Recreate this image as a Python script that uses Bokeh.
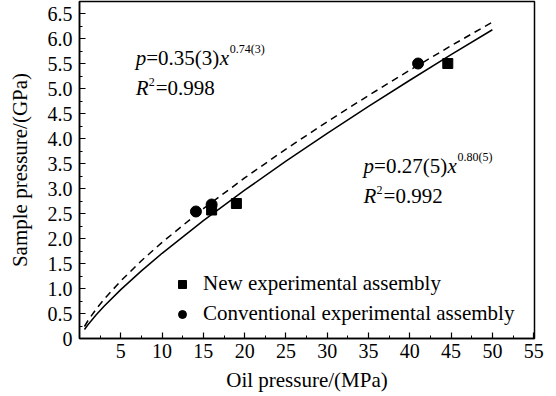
from bokeh.plotting import figure
from bokeh.models import (Range1d, FixedTicker, PrintfTickFormatter, Legend,
                          LegendItem, Label)
from bokeh.embed import file_html
from bokeh.resources import INLINE

FONT = "Liberation Serif"

# measured points
new_x = [16.0, 19.0, 44.6]
new_y = [2.57, 2.70, 5.50]
conv_x = [14.1, 16.0, 41.0]
conv_y = [2.54, 2.68, 5.50]

# fitted curves: new p=0.27 x^0.80 (solid), conventional p=0.35 x^0.74 (dashed)
fit_x = [0.6, 1, 2, 3, 5, 7.5, 10, 15, 20, 25, 30, 35, 40, 45, 50]
fit_new_y = [0.179, 0.270, 0.470, 0.650, 0.978, 1.353, 1.704, 2.356, 2.966,
             3.546, 4.103, 4.641, 5.165, 5.676, 6.175]
fit_conv_y = [0.240, 0.350, 0.585, 0.789, 1.152, 1.555, 1.923, 2.596, 3.212,
              3.789, 4.336, 4.861, 5.366, 5.855, 6.329]

x_ticks = [5, 10, 15, 20, 25, 30, 35, 40, 45, 50, 55]
x_minor = [2.5, 7.5, 12.5, 17.5, 22.5, 27.5, 32.5, 37.5, 42.5, 47.5, 52.5]
y_ticks = [0, 0.5, 1.0, 1.5, 2.0, 2.5, 3.0, 3.5, 4.0, 4.5, 5.0, 5.5, 6.0, 6.5]
y_minor = [0.25, 0.75, 1.25, 1.75, 2.25, 2.75, 3.25, 3.75, 4.25, 4.75, 5.25,
           5.75, 6.25]

p = figure(width=556, height=396, output_backend="svg", toolbar_location=None,
           x_range=Range1d(0, 55.1), y_range=Range1d(0, 6.74),
           min_border_left=79, min_border_right=22, min_border_top=1,
           min_border_bottom=58)
p.grid.visible = False
p.background_fill_color = "white"
p.outline_line_color = "black"
p.outline_line_width = 1.5

p.xaxis.axis_label = "Oil pressure/(MPa)"
p.yaxis.axis_label = "Sample pressure/(GPa)"
p.xaxis.ticker = FixedTicker(ticks=x_ticks, minor_ticks=x_minor)
p.yaxis.ticker = FixedTicker(ticks=y_ticks, minor_ticks=y_minor)
p.yaxis.formatter = PrintfTickFormatter(format="%.1f")
p.yaxis.major_label_overrides = {0: "0"}
for ax in (p.xaxis[0], p.yaxis[0]):
    ax.axis_line_width = 1.5
    ax.axis_line_color = "black"
    ax.major_tick_in = 6
    ax.major_tick_out = 0
    ax.minor_tick_in = 3
    ax.minor_tick_out = 0
    ax.major_tick_line_color = "black"
    ax.minor_tick_line_color = "black"
    ax.major_tick_line_width = 1.2
    ax.major_label_text_font = FONT
    ax.major_label_text_font_size = "20px"
    ax.major_label_text_color = "black"
    ax.axis_label_text_font = FONT
    ax.axis_label_text_font_size = "21px"
    ax.axis_label_text_font_style = "normal"
    ax.axis_label_text_color = "black"
p.xaxis.major_label_standoff = 5
p.yaxis.major_label_standoff = 7
p.xaxis.axis_label_standoff = 7
p.yaxis.axis_label_standoff = 13

p.line(fit_x, fit_conv_y, line_color="black", line_width=1.5, line_dash="7 5")
p.line(fit_x, fit_new_y, line_color="black", line_width=1.5)

sq = p.scatter(new_x, new_y, marker="square", size=10, fill_color="black",
               line_color="black")
ci = p.scatter(conv_x, conv_y, marker="circle", size=11, fill_color="black",
               line_color="black")

legend = Legend(items=[LegendItem(label="New experimental assembly", renderers=[sq]),
                       LegendItem(label="Conventional experimental assembly", renderers=[ci])],
                location=(93, 12), border_line_color=None,
                background_fill_alpha=0, padding=0, margin=0, spacing=5,
                glyph_width=20, glyph_height=22, label_height=22,
                label_standoff=11, label_text_font=FONT,
                label_text_font_size="21px", label_text_color="black")
p.add_layout(legend)


def piece(x, y, text, dx=0, dy=0, size="21px", style="normal"):
    p.add_layout(Label(x=x, y=y, text=text, x_offset=dx, y_offset=dy,
                       text_font=FONT, text_font_size=size,
                       text_font_style=style, text_color="black",
                       text_baseline="alphabetic", text_align="left"))


# conventional fit annotation
piece(6.8, 5.62, "p", 0, 0, style="italic")
piece(6.8, 5.62, "=0.35(3)", 10.5)
piece(6.8, 5.62, "x", 84, 0, style="italic")
piece(6.8, 5.62, "0.74(3)", 94, 9, size="12px")
piece(6.8, 5.02, "R", 0, 0, style="italic")
piece(6.8, 5.02, "2", 13, 6, size="12px")
piece(6.8, 5.02, "=0.998", 20)

# new fit annotation
piece(34.4, 3.46, "p", 0, 0, style="italic")
piece(34.4, 3.46, "=0.27(5)", 10.5)
piece(34.4, 3.46, "x", 84, 0, style="italic")
piece(34.4, 3.46, "0.80(5)", 94, 9, size="12px")
piece(34.4, 2.86, "R", 0, 0, style="italic")
piece(34.4, 2.86, "2", 13, 6, size="12px")
piece(34.4, 2.86, "=0.992", 20)

open("out.html", "w").write(file_html(p, INLINE))
